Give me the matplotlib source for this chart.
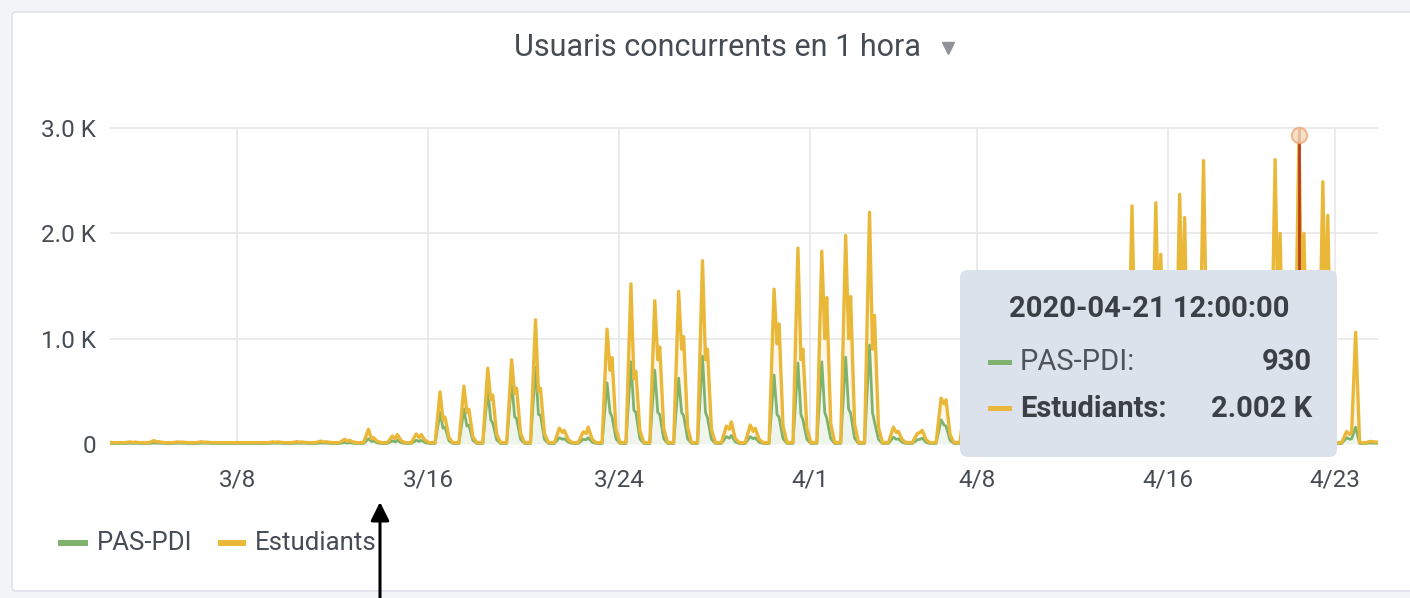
import numpy as np
import matplotlib
matplotlib.use('Agg')
import matplotlib.pyplot as plt
from matplotlib.patches import FancyBboxPatch, Rectangle
from matplotlib.ticker import FuncFormatter

# one row per day, 2020-03-02 .. 2020-04-24
days = np.arange('2020-03-02', '2020-04-25', dtype='datetime64[D]')

# hour of day for each reading: night, morning, main peak, dip, second peak, evening
reading_hours = [1, 7, 12, 15, 17, 21]
night_pas = 5
night_est = 8

pas_am = [6, 8, 10, 8, 8, 6, 6, 8, 8, 10, 15, 50, 30, 35, 300, 330, 510, 600, 730, 60, 45,
          580, 780, 700, 625, 835, 70, 70, 655, 770, 780, 825, 940, 65, 40, 230, 220, 200,
          170, 40, 25, 25, 70, 900, 920, 940, 960, 80, 70, 950, 930, 920, 60, 10]
pas_dip = [5, 6, 8, 7, 7, 5, 5, 7, 7, 8, 10, 25, 20, 25, 150, 170, 230, 260, 280, 45, 40,
           300, 320, 300, 300, 300, 55, 50, 280, 280, 300, 330, 300, 45, 45, 180, 170, 150,
           130, 30, 20, 20, 50, 350, 360, 380, 350, 60, 55, 380, 380, 370, 45, 8]
pas_pm = [6, 7, 9, 7, 7, 6, 6, 8, 8, 9, 12, 30, 35, 35, 160, 180, 200, 240, 275, 50, 60,
          260, 300, 280, 270, 250, 80, 60, 255, 230, 245, 295, 210, 50, 55, 170, 160, 150,
          130, 35, 25, 25, 55, 300, 320, 330, 280, 70, 65, 320, 320, 320, 50, 8]
pas_eve = [5, 6, 6, 6, 6, 5, 5, 6, 6, 6, 7, 10, 12, 14, 30, 35, 40, 45, 45, 18, 18,
           50, 50, 50, 50, 45, 20, 18, 50, 45, 50, 55, 45, 16, 16, 35, 35, 30,
           28, 12, 10, 10, 16, 50, 55, 55, 50, 20, 20, 55, 55, 55, 160, 6]

est_am = [9, 12, 22, 12, 14, 8, 8, 12, 14, 18, 30, 90, 45, 60, 195, 220, 210, 200, 450, 90, 70,
          510, 740, 660, 825, 905, 100, 110, 815, 1090, 1050, 1155, 1260, 95, 60, 205, 200, 180,
          160, 50, 35, 30, 80, 1360, 1370, 1430, 1730, 120, 110, 1750, 2002, 1570, 60, 15]
est_dip = [7, 9, 12, 9, 9, 7, 7, 9, 9, 10, 15, 25, 30, 35, 80, 130, 190, 220, 220, 65, 60,
           400, 300, 500, 600, 500, 85, 70, 670, 520, 700, 670, 600, 65, 65, 200, 190, 170,
           150, 40, 30, 25, 60, 650, 640, 720, 650, 90, 85, 720, 720, 730, 45, 12]
est_pm = [9, 11, 13, 11, 11, 8, 8, 12, 12, 13, 23, 30, 55, 55, 95, 150, 265, 290, 255, 80, 100,
          560, 390, 640, 750, 650, 130, 90, 885, 670, 1145, 1105, 1010, 70, 75, 250, 240, 200,
          170, 45, 35, 30, 75, 1000, 1480, 1820, 920, 110, 105, 1680, 1680, 1850, 60, 12]
est_eve = [7, 8, 9, 8, 8, 7, 7, 8, 8, 9, 11, 15, 18, 21, 30, 35, 50, 55, 55, 22, 27,
           90, 80, 100, 110, 95, 30, 27, 120, 105, 140, 135, 115, 24, 24, 55, 50, 50,
           42, 18, 15, 15, 24, 130, 145, 165, 120, 30, 30, 145, 145, 155, 900, 9]

tick_dates = ['2020-03-08', '2020-03-16', '2020-03-24', '2020-04-01',
              '2020-04-08', '2020-04-16', '2020-04-23']
tick_labels = ['3/8', '3/16', '3/24', '4/1', '4/8', '4/16', '4/23']

hover_time = np.datetime64('2020-04-21T12:00')

GREEN = '#7EB26D'
YELLOW = '#EAB839'
TEXT = '#464c54'
DARK = '#3b3f46'


def daily_series(night, am, dip, pm, eve):
    n = len(days)
    cols = [np.full(n, night), np.full(n, night), am, dip, pm, eve]
    return np.column_stack(cols).astype(float).ravel()


t = (days.astype('datetime64[h]')[:, None] + np.array(reading_hours, dtype='timedelta64[h]')).ravel()
pas = daily_series(night_pas, pas_am, pas_dip, pas_pm, pas_eve)
est = daily_series(night_est, est_am, est_dip, est_pm, est_eve)
total = pas + est  # grafana stacks the two series

W, H = 1410, 598
fig = plt.figure(figsize=(W / 100, H / 100), dpi=100)
fig.patch.set_facecolor('#f3f4f7')

# panel background
bg = fig.add_axes([0, 0, 1, 1], zorder=0)
bg.set_xlim(0, W)
bg.set_ylim(H, 0)
bg.axis('off')
bg.add_patch(FancyBboxPatch((16, 16), W, 571, boxstyle='round,pad=4',
                            facecolor='white', edgecolor='#dfe2e8', lw=1.2))

# plot area
ymin, ymax = -20, 3040
px_per_unit = 316 / 3000
bottom_px = 444 - ymin * px_per_unit
top_px = 128 - (ymax - 3000) * px_per_unit
ax = fig.add_axes([110 / W, 1 - bottom_px / H, 1268 / W, (bottom_px - top_px) / H], zorder=1)
ax.patch.set_alpha(0)

ax.fill_between(t, 0, pas, color=GREEN, alpha=0.12, lw=0)
ax.fill_between(t, pas, total, color=YELLOW, alpha=0.10, lw=0)
ax.plot(t, pas, color=GREEN, lw=2.0)
ax.plot(t, total, color=YELLOW, lw=2.4)

ax.set_xlim(np.datetime64('2020-03-02T16:00'), np.datetime64('2020-04-24T19:30'))
ax.set_ylim(ymin, ymax)

ticks = np.array(tick_dates, dtype='datetime64[h]')
ax.set_xticks(ticks)
ax.set_xticklabels(tick_labels)
ax.set_yticks([0, 1000, 2000, 3000])
ax.yaxis.set_major_formatter(FuncFormatter(lambda v, p: '0' if v == 0 else f'{v / 1000:.1f} K'))
ax.vlines(ticks, 0, 3000, color='#e8e8e8', lw=1.2, zorder=0)
ax.hlines([1000, 2000, 3000], ax.get_xlim()[0], ax.get_xlim()[1], color='#e8e8e8', lw=1.2, zorder=0)
for s in ax.spines.values():
    s.set_visible(False)
ax.tick_params(length=0, labelsize=17.5, colors=TEXT)
ax.tick_params(axis='x', pad=16)
ax.tick_params(axis='y', pad=10)
for lab in ax.get_xticklabels() + ax.get_yticklabels():
    lab.set_family('Roboto')

# hover crosshair and point
hover_idx = int(np.where(t == hover_time)[0][0])
ax.vlines(hover_time, 0, 3000, color='#b8401e', lw=2, zorder=3)
ax.plot(hover_time, total[hover_idx], 'o', ms=11, mfc='#f6d9bd', mec='#f0a878', mew=1.5,
        alpha=0.8, zorder=4)

# overlay: title, legend, tooltip, arrow
ov = fig.add_axes([0, 0, 1, 1], zorder=2)
ov.set_xlim(0, W)
ov.set_ylim(H, 0)
ov.axis('off')
ov.patch.set_alpha(0)

ov.text(718, 48, 'Usuaris concurrents en 1 hora', ha='center', va='center',
        fontsize=22, color=TEXT, family='Roboto')
ov.plot(948, 48, marker='v', ms=9, color='#8e9299')

ov.add_patch(Rectangle((58, 540), 30, 6, color=GREEN, lw=0))
ov.text(97, 543, 'PAS-PDI', ha='left', va='center', fontsize=18.5, color=TEXT, family='Roboto')
ov.add_patch(Rectangle((218, 540), 28, 6, color=YELLOW, lw=0))
ov.text(255, 543, 'Estudiants', ha='left', va='center', fontsize=18.5, color=TEXT, family='Roboto')

ov.add_patch(FancyBboxPatch((968, 278), 361, 171, boxstyle='round,pad=8',
                            facecolor='#dce2eb', edgecolor='none'))
hover_label = str(hover_time.astype('datetime64[s]')).replace('T', ' ')
ov.text(1149, 309, hover_label, ha='center', va='center', fontsize=21, weight='bold',
        color=DARK, family='Roboto')
pas_val = pas[hover_idx]
est_val = est[hover_idx]
ov.add_patch(Rectangle((988, 360), 24, 4.5, color=GREEN, lw=0))
ov.text(1020, 362, 'PAS-PDI:', ha='left', va='center', fontsize=21, color='#4f535b', family='Roboto')
ov.text(1312, 362, f'{pas_val:.0f}', ha='right', va='center', fontsize=21, weight='bold',
        color=DARK, family='Roboto')
ov.add_patch(Rectangle((988, 406), 24, 4.5, color=YELLOW, lw=0))
ov.text(1020, 409, 'Estudiants:', ha='left', va='center', fontsize=21, weight='bold',
        color=DARK, family='Roboto')
ov.text(1312, 409, f'{est_val / 1000:.3f} K', ha='right', va='center', fontsize=21, weight='bold',
        color=DARK, family='Roboto')

ov.annotate('', xy=(380, 502), xytext=(380, 600),
            arrowprops=dict(arrowstyle='-|>', color='black', lw=2.2, mutation_scale=28,
                            shrinkA=0, shrinkB=0))

fig.savefig('out.png', dpi=100)
